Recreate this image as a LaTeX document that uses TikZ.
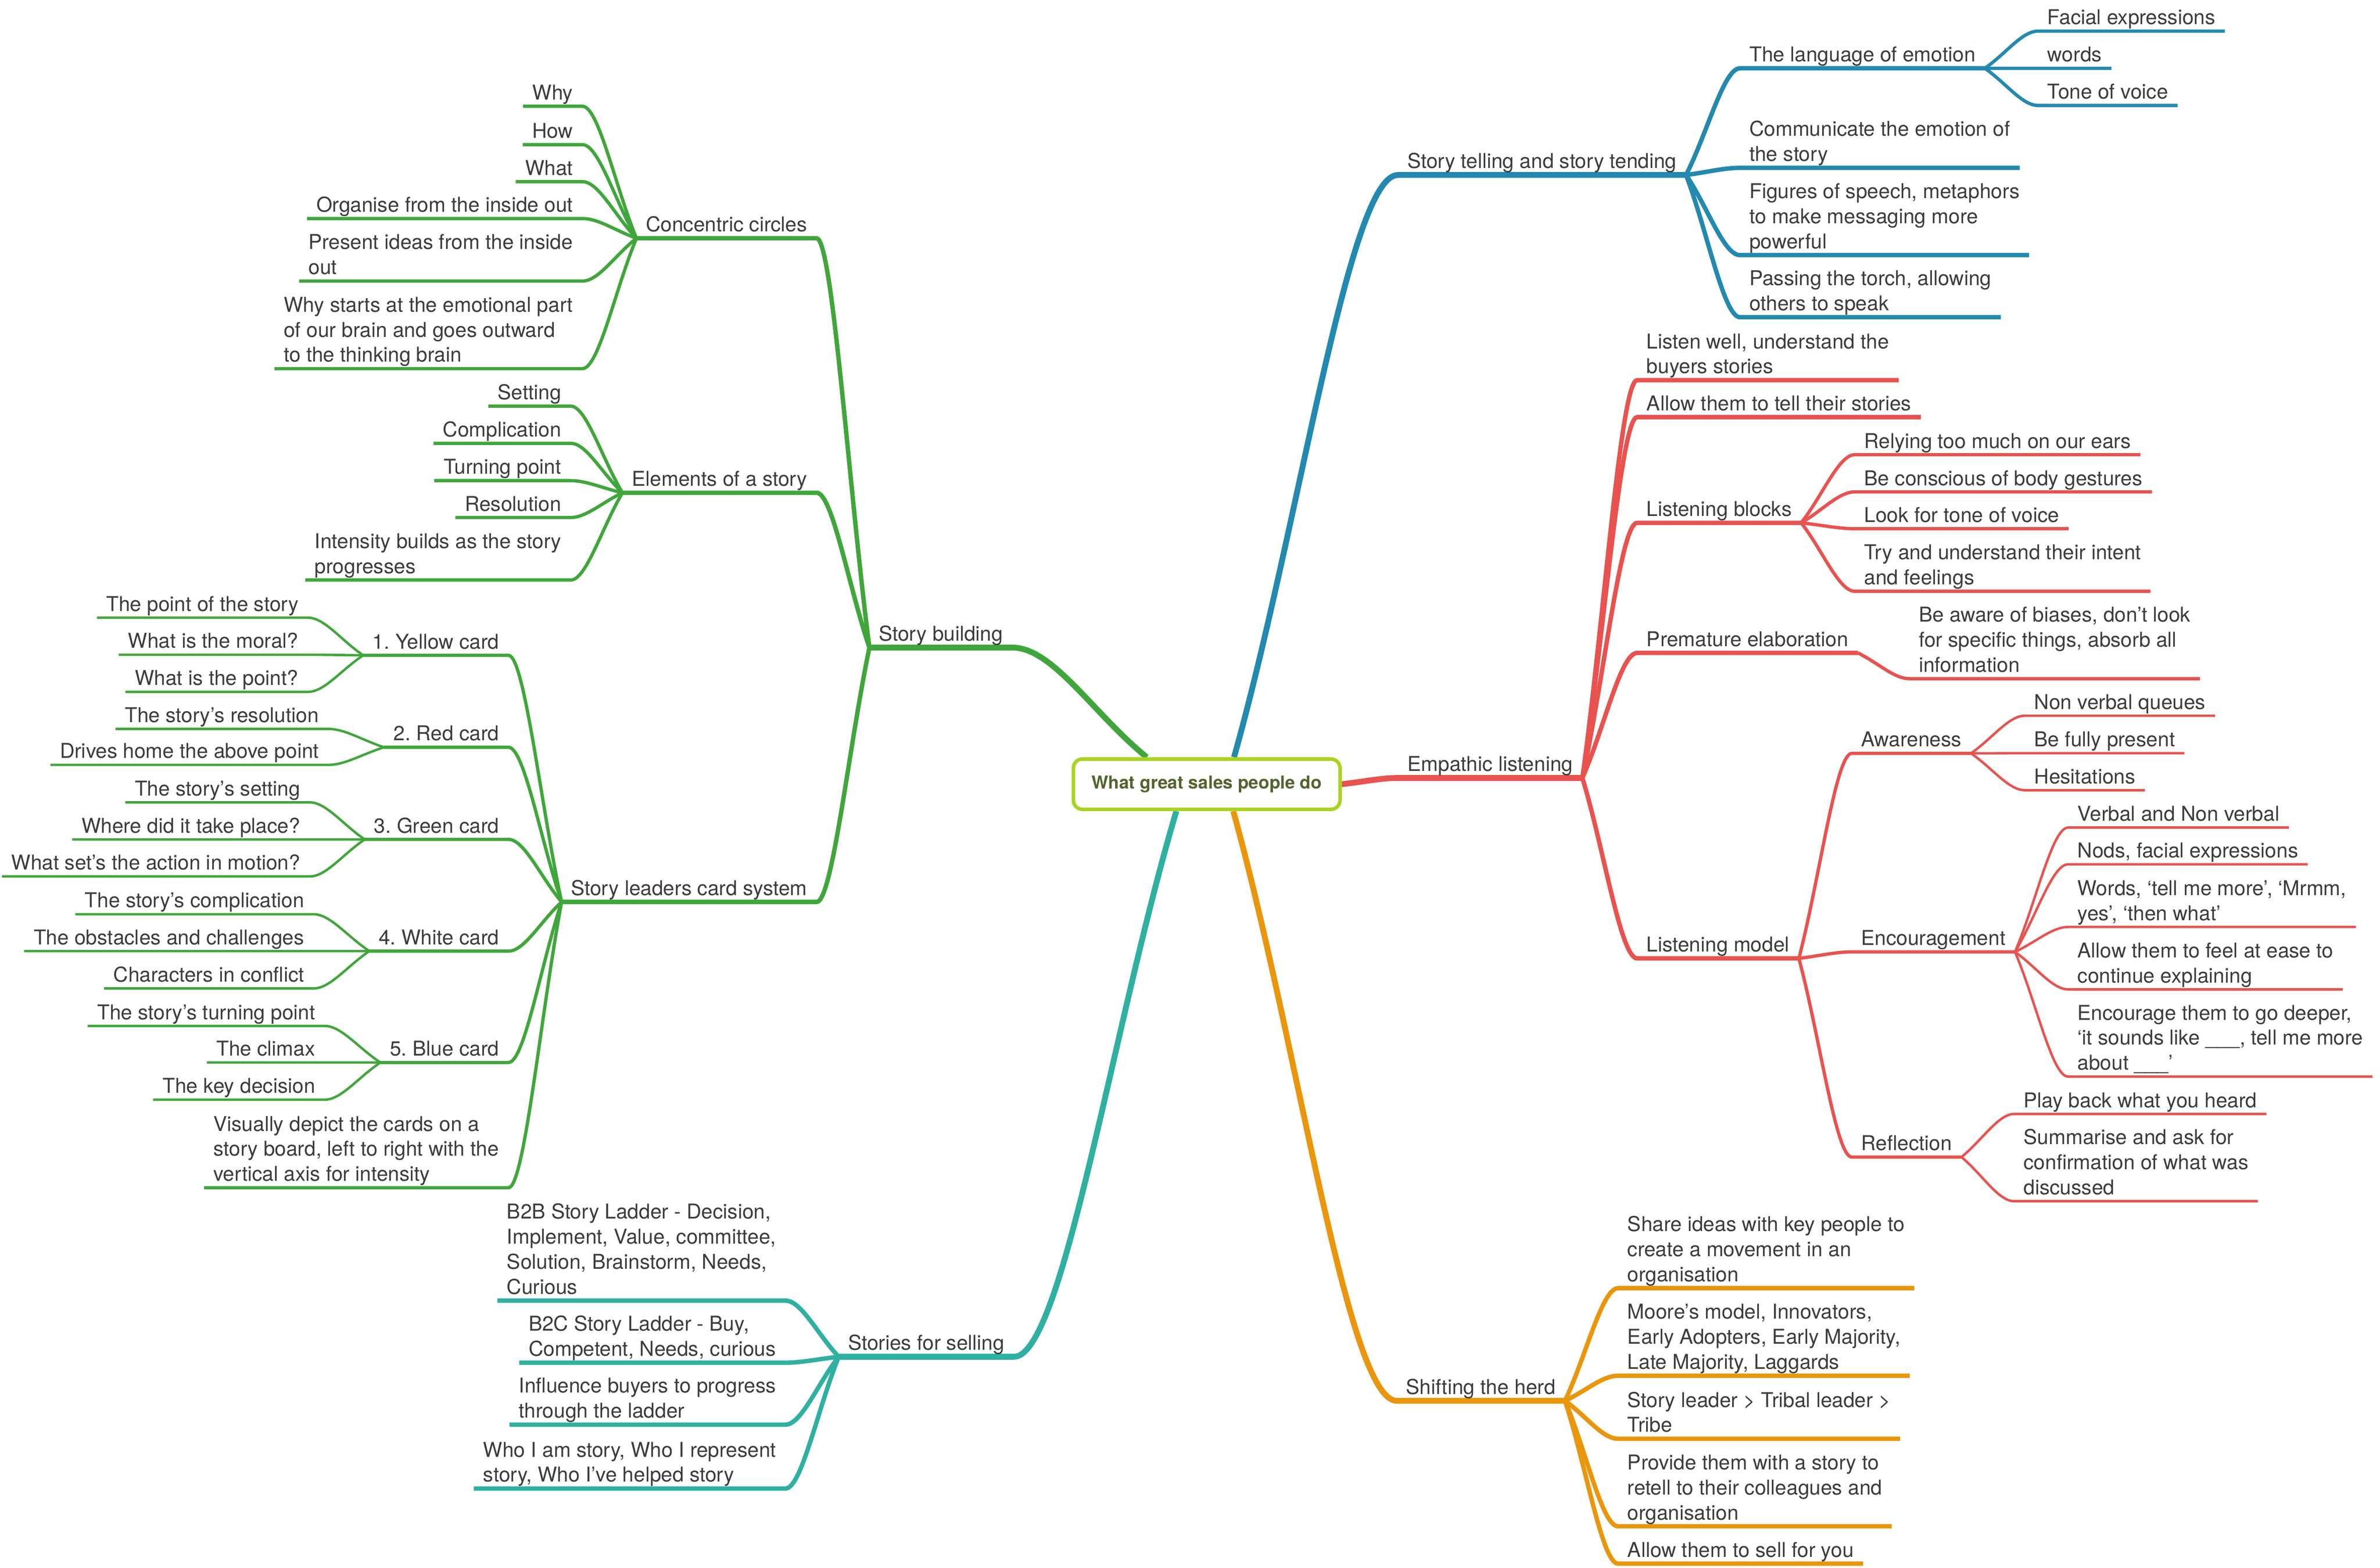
\documentclass[tikz,border=0pt]{standalone}
\usepackage{fontspec}
\setmainfont{TeX Gyre Heros}
\usepackage{tikz}
\usetikzlibrary{calc}

\definecolor{cblue}{RGB}{35,137,174}
\definecolor{cred}{RGB}{232,82,79}
\definecolor{corange}{RGB}{233,150,12}
\definecolor{cteal}{RGB}{47,176,160}
\definecolor{cgreen}{RGB}{64,166,60}
\definecolor{clime}{RGB}{168,212,32}
\definecolor{ctitle}{RGB}{80,100,45}
\definecolor{ctext}{RGB}{60,60,58}

\pgfdeclarelayer{bg}
\pgfdeclarelayer{edges}
\pgfsetlayers{bg,edges,main}

\newcommand{\mlines}[1]{\begin{tabular}[b]{@{}l@{}}#1\end{tabular}}

\begin{document}
\frenchspacing
\begin{tikzpicture}[x=0.3mm,y=-0.3mm,line cap=round,line join=round]
    \tikzstyle{topic}=[font=\fontsize{11.5}{14.1}\selectfont,text=ctext,inner xsep=1.8mm,inner ysep=0pt,text depth=3.5pt]
    \tikzstyle{rtopic}=[topic,anchor=south west]
    \tikzstyle{ltopic}=[topic,anchor=south east]
    \tikzstyle{central}=[draw=clime,line width=0.7mm,rounded corners=1.8mm,fill=white,minimum width=52.7mm,minimum height=9.96mm,inner sep=0pt,font=\fontsize{10}{12}\selectfont\bfseries,text=ctitle]
    \tikzstyle{lone}=[line width=1.15mm]
    \tikzstyle{ltwo}=[line width=0.87mm]
    \tikzstyle{lthree}=[line width=0.65mm]
    \tikzstyle{lfour}=[line width=0.48mm]
    \tikzstyle{branchto}=[to path={let \p1=(\tikztostart),\p2=(\tikztotarget) in
        .. controls ($(\p1)!0.4!(\p2)$) and ({\x2-0.3*(\x2-\x1)},\y2) .. (\p2)}]

    \useasboundingbox (0,0) rectangle (1568,1033);
    \begin{pgfonlayer}{bg}
        \fill[white] (0,0) rectangle (1568,1033);
    \end{pgfonlayer}

    % Central topic
    \node[central] (root) at (795,516.7) {What great sales people do};
    \coordinate (root-st) at ($(root.north)+(18,0)$);
    \coordinate (root-sb) at ($(root.north)+(-39.5,0)$);
    \coordinate (root-sh) at ($(root.south)+(17.5,0)$);
    \coordinate (root-sf) at ($(root.south)+(-20,0)$);

    % Story telling and story tending
    \node[rtopic] (st) at (921,115.3) {Story telling and story tending};
    \node[rtopic] (la) at (1146.3,45) {The language of emotion};
    \node[rtopic] (fe) at (1342.7,20.5) {Facial expressions};
    \node[rtopic] (wo) at (1342.7,45) {words};
    \node[rtopic] (tv) at (1342.7,69.5) {Tone of voice};
    \node[rtopic] (ce) at (1146.3,110.6) {\mlines{Communicate the emotion of\\the story}};
    \node[rtopic] (fs) at (1146.3,168.1) {\mlines{Figures of speech, metaphors\\to make messaging more\\powerful}};
    \node[rtopic] (pt) at (1146.3,209) {\mlines{Passing the torch, allowing\\others to speak}};

    % Empathic listening
    \node[rtopic] (el) at (921,512.6) {Empathic listening};
    \node[rtopic] (lw) at (1078.6,250.5) {\mlines{Listen well, understand the\\buyers stories}};
    \node[rtopic] (ts) at (1078.6,274.9) {Allow them to tell their stories};
    \node[rtopic] (lb) at (1078.6,344.5) {Listening blocks};
    \node[rtopic] (ro) at (1222,299.6) {Relying too much on our ears};
    \node[rtopic] (bo) at (1222,324.1) {Be conscious of body gestures};
    \node[rtopic] (lt) at (1222,348.4) {Look for tone of voice};
    \node[rtopic] (tu) at (1222,389.6) {\mlines{Try and understand their intent\\and feelings}};
    \node[rtopic] (pe) at (1078.6,430.2) {Premature elaboration};
    \node[rtopic] (ba) at (1258,447.2) {\mlines{Be aware of biases, don’t look\\for specific things, absorb all\\information}};
    \node[rtopic] (lm) at (1078.6,631.5) {Listening model};
    \node[rtopic] (aw) at (1220,496.4) {Awareness};
    \node[rtopic] (nv) at (1334,471.6) {Non verbal queues};
    \node[rtopic] (fp) at (1334,496.3) {Be fully present};
    \node[rtopic] (hs) at (1334,520.7) {Hesitations};
    \node[rtopic] (ec) at (1220,627.2) {Encouragement};
    \node[rtopic] (vn) at (1362.5,545.3) {Verbal and Non verbal};
    \node[rtopic] (nf) at (1362.5,569.5) {Nods, facial expressions};
    \node[rtopic] (wt) at (1362.5,610.8) {\mlines{Words, ‘tell me more’, ‘Mrmm,\\yes’, ‘then what’}};
    \node[rtopic] (ea) at (1362.5,651.9) {\mlines{Allow them to feel at ease to\\continue explaining}};
    \node[rtopic] (gd) at (1362.5,709.4) {\mlines{Encourage them to go deeper,\\‘it sounds like \_\_\_, tell me more\\about \_\_\_’}};
    \node[rtopic] (rf) at (1220,762.4) {Reflection};
    \node[rtopic] (pb) at (1327,734) {Play back what you heard};
    \node[rtopic] (sa) at (1327,791.5) {\mlines{Summarise and ask for\\confirmation of what was\\discussed}};

    % Shifting the herd
    \node[rtopic] (sh) at (920.2,923) {Shifting the herd};
    \node[rtopic] (si) at (1066,848.8) {\mlines{Share ideas with key people to\\create a movement in an\\organisation}};
    \node[rtopic] (mm) at (1066,906.5) {\mlines{Moore’s model, Innovators,\\Early Adopters, Early Majority,\\Late Majority, Laggards}};
    \node[rtopic] (sl) at (1066,948) {\mlines{Story leader \textgreater{} Tribal leader \textgreater\\Tribe}};
    \node[rtopic] (pr) at (1066,1005.7) {\mlines{Provide them with a story to\\retell to their colleagues and\\organisation}};
    \node[rtopic] (sy) at (1066,1030.3) {Allow them to sell for you};

    % Stories for selling
    \node[ltopic] (sf) at (668,894) {Stories for selling};
    \node[ltopic] (b2b) at (517.5,857) {\mlines{B2B Story Ladder - Decision,\\Implement, Value, committee,\\Solution, Brainstorm, Needs,\\Curious}};
    \node[ltopic] (b2c) at (517.5,897.9) {\mlines{B2C Story Ladder - Buy,\\Competent, Needs, curious}};
    \node[ltopic] (ip) at (517.5,938.7) {\mlines{Influence buyers to progress\\through the ladder}};
    \node[ltopic] (wi) at (517.5,980.8) {\mlines{Who I am story, Who I represent\\story, Who I’ve helped story}};

    % Story building
    \node[ltopic] (sb) at (667,426.7) {Story building};
    \node[ltopic] (cc) at (538,157) {Concentric circles};
    \node[ltopic] (wy) at (383.7,70) {Why};
    \node[ltopic] (hw) at (383.7,95.3) {How};
    \node[ltopic] (wa) at (383.7,119.7) {What};
    \node[ltopic] (oi) at (383.7,144) {Organise from the inside out};
    \node[ltopic] (pi) at (383.7,185.2) {\mlines{Present ideas from the inside\\out}};
    \node[ltopic] (ws) at (383.7,242.9) {\mlines{Why starts at the emotional part\\of our brain and goes outward\\to the thinking brain}};
    \node[ltopic] (es) at (538,324.7) {Elements of a story};
    \node[ltopic] (se) at (376,267.6) {Setting};
    \node[ltopic] (cp) at (376,292.1) {Complication};
    \node[ltopic] (tp) at (376,316.7) {Turning point};
    \node[ltopic] (rs) at (376,341) {Resolution};
    \node[ltopic] (ib) at (376,382.2) {\mlines{Intensity builds as the story\\progresses}};
    \node[ltopic] (cs) at (538,594.3) {Story leaders card system};
    \node[ltopic] (yc) at (335,431.8) {1. Yellow card};
    \node[ltopic] (yc1) at (202.9,407) {The point of the story};
    \node[ltopic] (yc2) at (202.9,431.4) {What is the moral?};
    \node[ltopic] (yc3) at (202.9,455.9) {What is the point?};
    \node[ltopic] (rc) at (335,492.4) {2. Red card};
    \node[ltopic] (rc1) at (216.3,480.3) {The story’s resolution};
    \node[ltopic] (rc2) at (216.3,504) {Drives home the above point};
    \node[ltopic] (gc) at (335,553.1) {3. Green card};
    \node[ltopic] (gc1) at (204.1,528.7) {The story’s setting};
    \node[ltopic] (gc2) at (204.1,553.1) {Where did it take place?};
    \node[ltopic] (gc3) at (204.1,577.5) {What set’s the action in motion?};
    \node[ltopic] (wc) at (335,626.7) {4. White card};
    \node[ltopic] (wc1) at (206.6,602.4) {The story’s complication};
    \node[ltopic] (wc2) at (206.6,626.7) {The obstacles and challenges};
    \node[ltopic] (wc3) at (206.6,651.3) {Characters in conflict};
    \node[ltopic] (bc) at (335,700.1) {5. Blue card};
    \node[ltopic] (bc1) at (213.9,676) {The story’s turning point};
    \node[ltopic] (bc2) at (213.9,700.1) {The climax};
    \node[ltopic] (bc3) at (213.9,724.6) {The key decision};
    \node[ltopic] (vd) at (335,782.6) {\mlines{Visually depict the cards on a\\story board, left to right with the\\vertical axis for intensity}};

    \begin{pgfonlayer}{edges}
    % Main branches from the central topic
    \draw[lone,cblue] (root-st) to[branchto] (st.south west) -- (st.south east);
    \draw[lone,cred] (root.east) to[branchto] (el.south west) -- (el.south east);
    \draw[lone,corange] (root-sh) to[branchto] (sh.south west) -- (sh.south east);
    \draw[lone,cgreen] (root-sb) to[branchto] (sb.south east) -- (sb.south west);
    \draw[lone,cteal] (root-sf) to[branchto] (sf.south east) -- (sf.south west);

    % Right side: branch leaves the far end of the parent's underline
    \foreach \src/\kids/\wd/\col in {st/{la,ce,fs,pt}/ltwo/cblue, la/{fe,wo,tv}/lthree/cblue,
        el/{lw,ts,lb,pe,lm}/ltwo/cred, lb/{ro,bo,lt,tu}/lthree/cred, pe/{ba}/lthree/cred,
        lm/{aw,ec,rf}/lthree/cred, aw/{nv,fp,hs}/lfour/cred, ec/{vn,nf,wt,ea,gd}/lfour/cred,
        rf/{pb,sa}/lfour/cred, sh/{si,mm,sl,pr,sy}/ltwo/corange}
        \foreach \dst in \kids
            \draw[\wd,\col] (\src.south east) to[branchto] (\dst.south west) -- (\dst.south east);

    % Left side
    \foreach \src/\kids/\wd/\col in {sf/{b2b,b2c,ip,wi}/ltwo/cteal, sb/{cc,es,cs}/ltwo/cgreen,
        cc/{wy,hw,wa,oi,pi,ws}/lthree/cgreen, es/{se,cp,tp,rs,ib}/lthree/cgreen,
        cs/{yc,rc,gc,wc,bc,vd}/lthree/cgreen, yc/{yc1,yc2,yc3}/lfour/cgreen,
        rc/{rc1,rc2}/lfour/cgreen, gc/{gc1,gc2,gc3}/lfour/cgreen,
        wc/{wc1,wc2,wc3}/lfour/cgreen, bc/{bc1,bc2,bc3}/lfour/cgreen}
        \foreach \dst in \kids
            \draw[\wd,\col] (\src.south west) to[branchto] (\dst.south east) -- (\dst.south west);
    \end{pgfonlayer}
\end{tikzpicture}
\end{document}
